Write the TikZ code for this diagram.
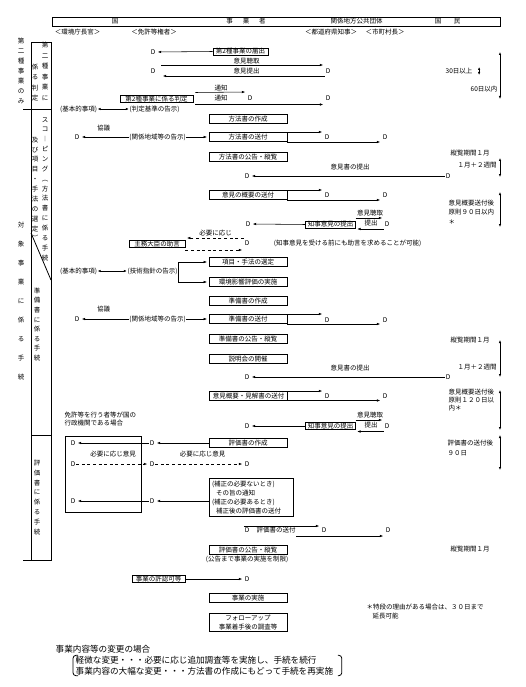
\documentclass[tikz,border=0pt]{standalone}
\usepackage{fontspec}
\setmainfont{Noto Sans CJK JP}
\usetikzlibrary{positioning,arrows.meta}
\newcommand{\jfs}{\fontsize{6.5}{7.5}\selectfont}
\newcommand{\jbig}{\fontsize{8.6}{11}\selectfont}
\newcommand{\vfs}[1]{\fontsize{6.5}{#1}\selectfont}

\begin{document}
\begin{tikzpicture}[x=1pt, y=-1pt,
  bx/.style={draw, line width=0.8pt, minimum width=78pt, minimum height=8.5pt,
    inner sep=0.5pt, font=\jfs},
  tb/.style={draw, line width=0.8pt, inner xsep=2pt, inner ysep=0.5pt, font=\jfs},
  lb/.style={inner sep=0.5pt, font=\jfs},
  dn/.style={inner sep=0.8pt, font=\jfs},
  vt/.style={inner sep=0pt, align=center},
  arr/.style={-{Latex[length=3.5pt,width=2.6pt]}, line width=0.55pt, shorten >=1.5pt},
  darr/.style={{Latex[length=3pt,width=2.4pt]}-{Latex[length=3pt,width=2.4pt]}, line width=0.55pt},
  dsh/.style={arr, dash pattern=on 3pt off 2.6pt},
  frm/.style={line width=0.8pt}
]
\useasboundingbox (0,0) rectangle (525,687);

\draw[frm] (52,17) rectangle (500,26);
\node[lb] (hKuni) at (115,21.5) {国};
\node[lb] (hJigyo) at (246,21.5) {事\hspace{10pt}業\hspace{10pt}者};
\node[lb] (hKankei) at (356.5,21.5) {関係地方公共団体};
\node[lb] (hKokumin) at (447.5,21.5) {国\hspace{12.5pt}民};
\node[lb] (sKankyo) at (77.5,32) {＜環境庁長官＞};
\node[lb] (sMenkyo) at (154,32) {＜免許等権者＞};
\node[lb] (sChiji) at (331,32) {＜都道府県知事＞};
\node[lb] (sShicho) at (385,32) {＜市町村長＞};

\draw[frm] (31,560) -- (31,42) -- (51,42) -- (51,560);
\draw[frm] (23,109) -- (51,109);
\draw[frm] (31,233) -- (51,280);
\draw[frm] (31,435) -- (51,435);
\draw[frm] (23,560) -- (52,560);

\node[vt, font=\vfs{10}] (vMiA) at (21,71) {第\\二\\種\\事\\業\\の\\み};
\node[vt, font=\vfs{19}] (vTaisho) at (21,301) {対\\象\\事\\業\\に\\係\\る\\手\\続};
\node[vt, font=\vfs{10.5}] (vHanR) at (45,71.5) {第\\二\\種\\事\\業\\に};
\node[vt, font=\vfs{10.5}] (vHanL) at (35,82.5) {係\\る\\判\\定};
\node[vt, font=\vfs{9.86}] (vScoR) at (45,189)
  {ス\\コ\\︱\\ピ\\ン\\グ\\︵\\方\\法\\書\\に\\係\\る\\手\\続};
\node[vt, font=\vfs{9.86}] (vScoL) at (35,189)
  {及\\び\\項\\目\\・\\手\\法\\の\\選\\定\\︶};
\node[vt, font=\vfs{9.6}] (vJunbi) at (37,324.5) {準\\備\\書\\に\\係\\る\\手\\続};
\node[vt, font=\vfs{9.9}] (vHyoka) at (37,497.5) {評\\価\\書\\に\\係\\る\\手\\続};

\node[dn] (dA1) at (153,52) {D};
\node[tb, minimum width=55pt] (bTodoke) at (240.5,51.5) {第2種事業の届出};
\draw[arr] (bTodoke.west) -- (dA1.east);
\node[lb] (lChoshuA) at (246.5,61) {意見聴取};
\node[dn] (dA2) at (153,71) {D};
\node[dn] (dC2) at (328,71) {D};
\node[lb] (lTeishutsuA) at (246.5,71) {意見提出};
\draw[arr] ([xshift=5pt,yshift=6pt]dA2.east) -- ([yshift=6pt]dC2.west);
\draw[arr] ([yshift=-5pt]dC2.west) -- ([xshift=5pt,yshift=-5pt]dA2.east);
\node[lb, anchor=west] (n30) at (445,71) {30日以上};
\draw[darr] ([xshift=6pt,yshift=4pt]n30.east) -- ([xshift=6pt,yshift=-4pt]n30.east);
\node[lb, anchor=west] (n60) at (470,89) {60日以内};
\node[lb] (lTsuchiA) at (221,88) {通知};
\node[lb] (lTsuchiB) at (221,98.5) {通知};
\node[tb, minimum width=73pt] (bHantei) at (156.5,99) {第2種事業に係る判定};
\node[dn] (dB4) at (250,98) {D};
\node[dn] (dC4) at (328,98) {D};
\draw[arr] ([xshift=2pt,yshift=6.5pt]bHantei.east) -- ([yshift=6pt]dB4.west);
\draw[arr] ([xshift=2pt,yshift=-5.5pt]bHantei.east) -- ([yshift=-6.5pt]dC4.west);
\node[lb] (lKihonA) at (78.5,109) {(基本的事項)};
\node[lb] (lHanteiKijun) at (154.5,109) {(判定基準の告示)};
\draw[darr] (lKihonA.east) -- (lHanteiKijun.west);

\node[bx] (bHoho1) at (248,119) {方法書の作成};
\node[lb] (lKyogiA) at (103.5,128) {協議};
\node[dn] (dA6) at (77,137) {D};
\node[lb] (lKankeiA) at (157.5,137) {(関係地域等の告示)};
\node[bx] (bHoho2) at (248,137) {方法書の送付};
\node[dn] (dC6) at (327,137) {D};
\node[dn] (dD6) at (385,137) {D};
\draw[arr] (lKankeiA.west) -- (dA6.east);
\draw[arr] (lKankeiA.east) -- (bHoho2.west);
\draw[arr] ([yshift=5pt]bHoho2.east) -- ([yshift=5pt]dC6.west);
\draw[arr] ([yshift=-5pt]bHoho2.east) -- ([yshift=-5pt]dD6.west);
\node[bx] (bHoho3) at (248,157) {方法書の公告・縦覧};
\node[lb, anchor=west] (lJuranA) at (450,153) {縦覧期間１月};
\node[lb, anchor=west] (lKikanA) at (457,165) {１月＋２週間};
\node[lb] (lIkenshoA) at (350,167) {意見書の提出};
\node[dn] (dB8) at (247,176) {D};
\node[dn] (dE8) at (448,176) {D};
\draw[arr] (dE8.west) -- (dB8.east);
\node[bx] (bHoho4) at (248,195) {意見の概要の送付};
\node[dn] (dC9) at (327,195) {D};
\node[dn] (dD9) at (385,195) {D};
\draw[arr] ([yshift=5pt]bHoho4.east) -- ([yshift=5pt]dC9.west);
\draw[arr] ([yshift=-5pt]bHoho4.east) -- ([yshift=-5pt]dD9.west);
\node[lb, anchor=west] (lSofuA) at (448,203) {意見概要送付後};
\node[lb, anchor=west] (lGenA) at (448,212.5) {原則９０日以内};
\node[lb, anchor=west] (lAstA) at (448,222) {＊};
\node[lb] (lChoshuB) at (370,213) {意見聴取};
\node[tb] (bChijiA) at (330.5,224.5) {知事意見の提出};
\node[dn] (dB10) at (248,224) {D};
\node[dn] (dD10) at (387,224) {D};
\node[lb] (lTeishutsuB) at (371,223.5) {提出};
\draw[arr] (bChijiA.west) -- (dB10.east);
\draw[arr] ([yshift=6.5pt]bChijiA.east) -- ([yshift=6pt]dD10.west);
\draw[arr] ([yshift=-5pt]dD10.west) -- ([yshift=-4.5pt]bChijiA.east);
\node[lb] (lHitsuyoA) at (215.5,233) {必要に応じ};
\node[tb, minimum width=56pt] (bJomu) at (157,244) {主務大臣の助言};
\node[dn] (dB11) at (247,243.5) {D};
\draw[dsh] ([yshift=5.5pt]dB11.west) -- ([yshift=6pt]bJomu.east);
\draw[dsh] ([yshift=-6pt]bJomu.east) -- ([yshift=-6.5pt]dB11.west);
\node[lb] (lKanou) at (347.5,243.5) {(知事意見を受ける前にも助言を求めることが可能)};
\node[lb] (lKihonB) at (78.5,271) {(基本的事項)};
\node[lb] (lGijutsu) at (152.5,271) {(技術指針の告示)};
\draw[darr] (lKihonB.east) -- (lGijutsu.west);
\node[bx] (bKomoku) at (248,262) {項目・手法の選定};
\node[bx] (bJisshi) at (248,282) {環境影響評価の実施};
\draw[arr] (lGijutsu.east) |- (bKomoku.west);
\draw[arr] (lGijutsu.east) |- (bJisshi.west);

\node[bx] (bJunbi1) at (248,301) {準備書の作成};
\node[lb] (lKyogiB) at (103.5,309) {協議};
\node[dn] (dA13) at (77,319) {D};
\node[lb] (lKankeiB) at (157.5,319) {(関係地域等の告示)};
\node[bx] (bJunbi2) at (248,319) {準備書の送付};
\node[dn] (dC13) at (327,320) {D};
\node[dn] (dD13) at (385,320) {D};
\draw[arr] (lKankeiB.west) -- (dA13.east);
\draw[arr] (lKankeiB.east) -- (bJunbi2.west);
\draw[arr] ([yshift=5pt]bJunbi2.east) -- ([yshift=6pt]dC13.west);
\draw[arr] ([yshift=-5pt]bJunbi2.east) -- ([yshift=-4pt]dD13.west);
\node[bx] (bJunbi3) at (248,339) {準備書の公告・縦覧};
\node[lb, anchor=west] (lJuranB) at (450,340) {縦覧期間１月};
\node[bx] (bJunbi4) at (248,359) {説明会の開催};
\node[lb, anchor=west] (lKikanB) at (457,367) {１月＋２週間};
\node[lb] (lIkenshoB) at (350,368) {意見書の提出};
\node[dn] (dB16) at (247,377) {D};
\node[dn] (dE16) at (448,377) {D};
\draw[arr] (dE16.west) -- (dB16.east);
\node[bx] (bJunbi5) at (248.5,396) {意見概要・見解書の送付};
\node[dn] (dC17) at (327,396) {D};
\node[dn] (dD17) at (385,396) {D};
\draw[arr] ([yshift=5pt]bJunbi5.east) -- ([yshift=5pt]dC17.west);
\draw[arr] ([yshift=-4.5pt]bJunbi5.east) -- ([yshift=-4.5pt]dD17.west);
\node[lb, anchor=west] (lSofuB) at (448,392) {意見概要送付後};
\node[lb, anchor=west] (lGenB) at (448,400) {原則１２０日以};
\node[lb, anchor=west] (lAstB) at (448,408) {内＊};
\node[lb, anchor=west, align=left, font=\vfs{8}] (lMenkyo) at (64,419.5)
  {免許等を行う者等が国の\\行政機関である場合};
\node[lb] (lChoshuC) at (370,415) {意見聴取};
\node[tb] (bChijiB) at (330.5,426) {知事意見の提出};
\node[dn] (dB18) at (247,426) {D};
\node[dn] (dD18) at (387,426) {D};
\node[lb] (lTeishutsuC) at (371,425.5) {提出};
\draw[arr] (bChijiB.west) -- (dB18.east);
\draw[arr] ([yshift=6pt]bChijiB.east) -- ([yshift=6pt]dD18.west);
\draw[arr] ([yshift=-5.5pt]dD18.west) -- ([yshift=-5.5pt]bChijiB.east);

\draw[frm] (65,436) rectangle (141,512);
\node[dn] (dA19) at (73,443) {D};
\node[dn] (dB19) at (152,443) {D};
\node[bx] (bHyoka1) at (248,443) {評価書の作成};
\draw[arr] (bHyoka1.west) -- (dB19.east);
\draw[arr] (dB19.west) -- (dA19.east);
\node[lb] (lHitsuyoB) at (113,454) {必要に応じ意見};
\node[lb] (lHitsuyoC) at (202.5,454) {必要に応じ意見};
\node[dn] (dA20) at (73,464) {D};
\node[dn] (dB20) at (152,464) {D};
\node[dn] (dC20) at (247,464) {D};
\draw[dsh] (dA20.east) -- (dB20.west);
\draw[dsh] (dB20.east) -- (dC20.west);
\node[bx, text width=78pt, align=left, font=\vfs{9.3}, inner xsep=3pt, inner ysep=1.8pt]
  (bHosei) at (251,497.5)
  {(補正の必要ないとき)\\\hspace*{4pt}その旨の通知\\(補正の必要あるとき)\\\hspace*{4pt}補正後の評価書の送付};
\node[dn] (dA21) at (73,501) {D};
\node[dn] (dB21) at (152,501) {D};
\draw[arr] (bHosei.west |- dB21.east) -- (dB21.east);
\draw[arr] (dB21.west) -- (dA21.east);
\node[dn] (dB22) at (247,530) {D};
\node[lb, anchor=west] (lSofuC) at (256,530) {評価書の送付};
\node[dn] (dC22) at (324,530) {D};
\node[dn] (dD22) at (388,530) {D};
\draw[arr] ([yshift=4pt]dB22.west) -- ([yshift=4pt]dC22.west);
\draw[arr] ([yshift=-6pt]lSofuC.east) -- ([yshift=-6pt]dD22.west);
\node[lb, anchor=west] (lSofuD) at (447,443) {評価書の送付後};
\node[lb, anchor=west] (l90) at (447,453) {９０日};
\node[bx] (bHyoka3) at (248,550) {評価書の公告・縦覧};
\node[lb] (lSeigen) at (247,559.5) {(公告まで事業の実施を制限)};
\node[lb, anchor=west] (lJuranC) at (450,549) {縦覧期間１月};

\node[tb, minimum width=53pt] (bKyoninka) at (158.5,579) {事業の許認可等};
\node[dn] (dB23) at (247,579) {D};
\draw[arr] (bKyoninka.east) -- (dB23.west);
\node[bx] (bJigyo) at (248,598) {事業の実施};
\node[bx, align=center, font=\vfs{9}, inner ysep=1.5pt] (bFollow) at (248,622.5)
  {フォローアップ\\事業着手後の調査等};
\node[lb, anchor=west, align=left, font=\vfs{9}] (lNote) at (366,611.5)
  {＊特段の理由がある場合は、３０日まで\\\hspace*{6pt}延長可能};

\foreach \ya/\yb [count=\k] in {52/99, 158/177, 192/227, 340/377, 390/430, 435/470}{
  \coordinate (pT\k) at (500,\ya);
  \coordinate (pB\k) at (500,\yb);
  \draw[darr] (pT\k) -- (pB\k);
}

\node[lb, anchor=west, font=\jbig] (lHenko) at (55,649) {事業内容等の変更の場合};
\node[lb, anchor=west, align=left, font=\jbig] (lKeibi) at (75,665.5)
  {軽微な変更・・・必要に応じ追加調査等を実施し、手続を続行\\
   事業内容の大幅な変更・・・方法書の作成にもどって手続を再実施};
\draw[frm, rounded corners=3pt] ([xshift=3pt]lKeibi.north west) -- ([xshift=-2pt]lKeibi.north west)
  -- ([xshift=-2pt]lKeibi.south west) -- ([xshift=3pt]lKeibi.south west);
\draw[frm, rounded corners=3pt] ([xshift=4pt]lKeibi.north east) -- ([xshift=8pt]lKeibi.north east)
  -- ([xshift=8pt]lKeibi.south east) -- ([xshift=4pt]lKeibi.south east);
\end{tikzpicture}
\end{document}
